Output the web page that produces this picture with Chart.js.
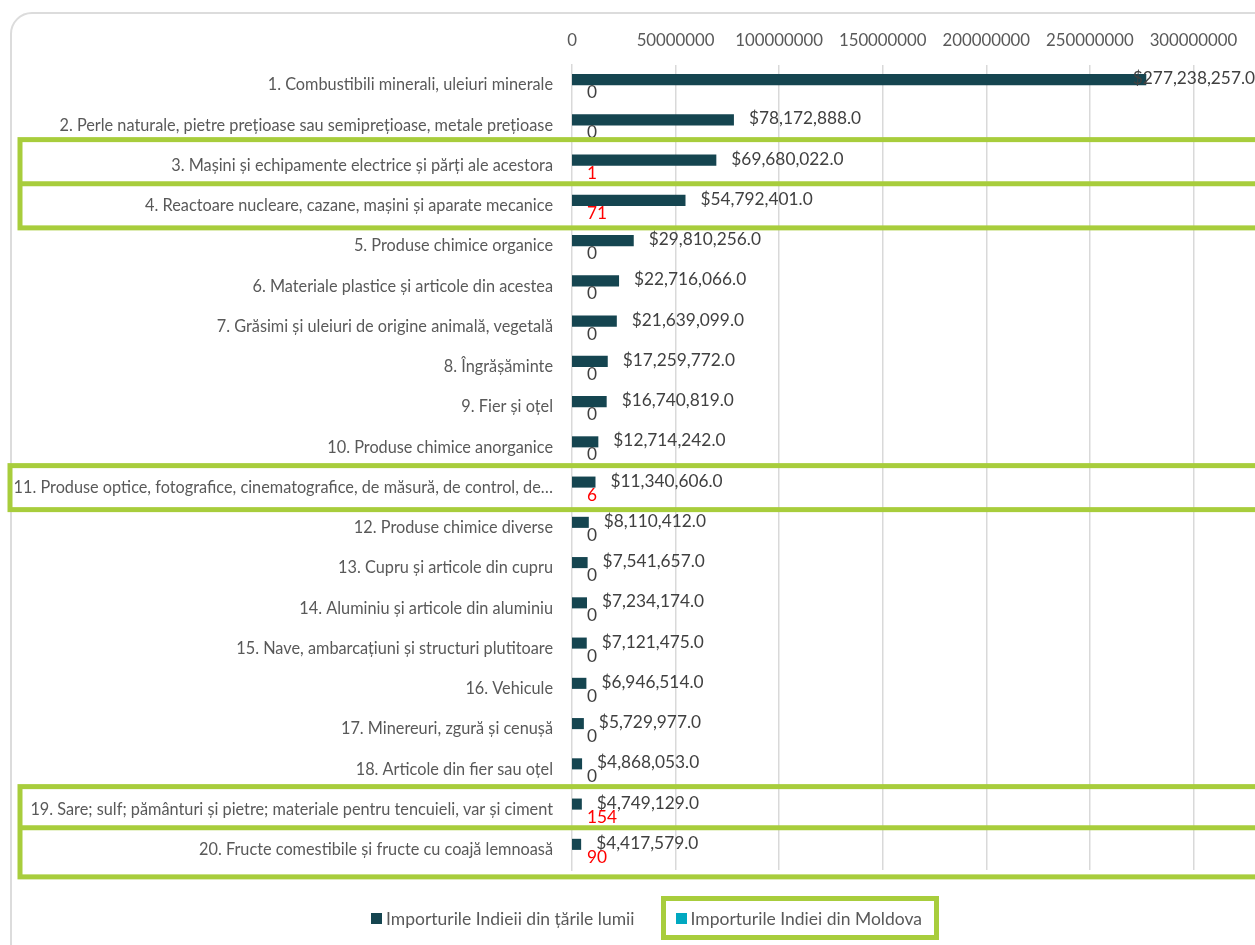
<!DOCTYPE html>
<html>
<head>
<meta charset="utf-8">
<script src="https://cdn.jsdelivr.net/npm/chart.js@4.4.1/dist/chart.umd.min.js"></script>
<style>
  html, body { margin: 0; padding: 0; background: #fff; overflow: hidden; width: 1255px; height: 945px; }
  #frame { position: absolute; left: 10px; top: 12px; width: 1320px; height: 980px; border: 2px solid #dcdcdc; border-radius: 22px; box-sizing: border-box; }
  #wrap { position: absolute; left: 0; top: 0; width: 1320px; height: 945px; }
  #legend { position: absolute; left: 0; top: 896px; width: 1310px; height: 44px; display: flex; justify-content: center; align-items: center; gap: 26px; font-family: Lato, sans-serif; font-size: 17.5px; color: #595959; }
  .item { display: flex; align-items: center; height: 34px; }
  .sw { width: 11px; height: 11px; margin-right: 4px; }
  .hl { border: 5px solid #a8cd3c; padding: 0 12px 0 10px; }
</style>
</head>
<body>
<div id="frame"></div>
<div id="wrap"><canvas id="importChart"></canvas></div>
<div id="legend">
  <div class="item"><span class="sw" style="background:#154550"></span>Importurile Indieii din țările lumii</div>
  <div class="item hl"><span class="sw" style="background:#00a8c0"></span>Importurile Indiei din Moldova</div>
</div>
<script>
const categories = [
  "1. Combustibili minerali, uleiuri minerale",
  "2. Perle naturale, pietre prețioase sau semiprețioase, metale prețioase",
  "3. Mașini și echipamente electrice și părți ale acestora",
  "4. Reactoare nucleare, cazane, mașini și aparate mecanice",
  "5. Produse chimice organice",
  "6. Materiale plastice și articole din acestea",
  "7. Grăsimi și uleiuri de origine animală, vegetală",
  "8. Îngrășăminte",
  "9. Fier și oțel",
  "10. Produse chimice anorganice",
  "11. Produse optice, fotografice, cinematografice, de măsură, de control, de…",
  "12. Produse chimice diverse",
  "13. Cupru și articole din cupru",
  "14. Aluminiu și articole din aluminiu",
  "15. Nave, ambarcațiuni și structuri plutitoare",
  "16. Vehicule",
  "17. Minereuri, zgură și cenușă",
  "18. Articole din fier sau oțel",
  "19. Sare; sulf; pământuri și pietre; materiale pentru tencuieli, var și ciment",
  "20. Fructe comestibile și fructe cu coajă lemnoasă"
];

const worldImports = [
  277238257, 78172888, 69680022, 54792401, 29810256, 22716066, 21639099,
  17259772, 16740819, 12714242, 11340606, 8110412, 7541657, 7234174,
  7121475, 6946514, 5729977, 4868053, 4749129, 4417579
];

const moldovaImports = [0, 0, 1, 71, 0, 0, 0, 0, 0, 0, 6, 0, 0, 0, 0, 0, 0, 0, 154, 90];

const seriesNames = ["Importurile Indieii din țările lumii", "Importurile Indiei din Moldova"];

// rows circled in green: [first row, last row, left x, pad above, pad below]
const highlights = [
  [2, 3, 20, 26, 22],
  [10, 10, 10, 22, 22],
  [18, 19, 20, 23, 27]
];

const FONT = "Lato, sans-serif";
const GREEN = "#a8cd3c";

function money(v) {
  return "$" + v.toLocaleString("en-US") + ".0";
}

// value labels, Excel style
const labelPlugin = {
  id: "valueLabels",
  afterDatasetsDraw(chart) {
    const ctx = chart.ctx;
    ctx.save();
    ctx.font = "17.3px " + FONT;
    ctx.textAlign = "left";
    ctx.textBaseline = "middle";
    chart.data.datasets.forEach((ds, di) => {
      chart.getDatasetMeta(di).data.forEach((bar, i) => {
        let v = ds.data[i];
        if (di == 0) {
          let txt = money(v);
          let w = ctx.measureText(txt).width;
          let x = Math.min(bar.x + 15, 1255 - w);
          ctx.fillStyle = "#404040";
          ctx.fillText(txt, x, bar.y - 1);
        } else {
          ctx.fillStyle = v > 0 ? "#ff0000" : "#404040";
          ctx.fillText(String(v), bar.base + 15, bar.y + 2);
        }
      });
    });
    ctx.restore();
  }
};

const boxPlugin = {
  id: "greenBoxes",
  afterDraw(chart) {
    const ctx = chart.ctx;
    const y = chart.scales.y;
    ctx.save();
    ctx.strokeStyle = GREEN;
    ctx.lineWidth = 5;
    highlights.forEach(([a, b, left, padTop, padBot]) => {
      let top = y.getPixelForValue(a) - padTop;
      let bottom = y.getPixelForValue(b) + padBot;
      ctx.strokeRect(left, top, 1400, bottom - top);
      for (let r = a; r < b; r++) {
        let mid = (y.getPixelForValue(r) + y.getPixelForValue(r + 1)) / 2 - 2;
        ctx.beginPath();
        ctx.moveTo(left, mid);
        ctx.lineTo(1400, mid);
        ctx.stroke();
      }
    });
    ctx.restore();
  }
};

const chartData = {
  labels: categories,
  datasets: [
    {
      label: seriesNames[0],
      data: worldImports,
      backgroundColor: "#154550",
      categoryPercentage: 0.55,
      barPercentage: 1.0,
      inflateAmount: 0
    },
    {
      label: seriesNames[1],
      data: moldovaImports,
      backgroundColor: "#00a8c0",
      categoryPercentage: 0.55,
      barPercentage: 1.0,
      inflateAmount: 0
    }
  ]
};

const options = {
  indexAxis: "y",
  responsive: false,
  animation: false,
  layout: { padding: { left: 0, right: 23, top: 0, bottom: 75 } },
  plugins: {
    legend: { display: false },
    tooltip: { enabled: false }
  },
  scales: {
    x: {
      position: "top",
      min: 0,
      max: 350000000,
      afterFit: (s) => { s.height = 65; s.paddingRight = 0; },
      grid: {
        color: "#d9d9d9",
        // zero line comes from the y border, so tiny bars are not pushed off it
        lineWidth: (c) => (c.tick && c.tick.value === 0 ? 0 : 1.5),
        drawTicks: false
      },
      border: { display: false },
      ticks: {
        stepSize: 50000000,
        padding: 14,
        color: "#595959",
        font: { family: FONT, size: 16.8 },
        maxRotation: 0,
        // the 350M label falls outside the picture
        callback: (v) => (v > 300000000 ? "" : String(v))
      }
    },
    y: {
      afterFit: (s) => { s.width = 572; },
      grid: { display: false, drawTicks: false },
      border: { display: true, color: "#d9d9d9", width: 1.5 },
      ticks: {
        padding: 19,
        color: "#595959",
        autoSkip: false,
        font: { family: FONT, size: 16.3 }
      }
    }
  }
};

const canvas = document.getElementById("importChart");
canvas.width = 1320;
canvas.height = 945;
new Chart(canvas.getContext("2d"), {
  type: "bar",
  data: chartData,
  options: options,
  plugins: [labelPlugin, boxPlugin]
});
</script>
</body>
</html>
